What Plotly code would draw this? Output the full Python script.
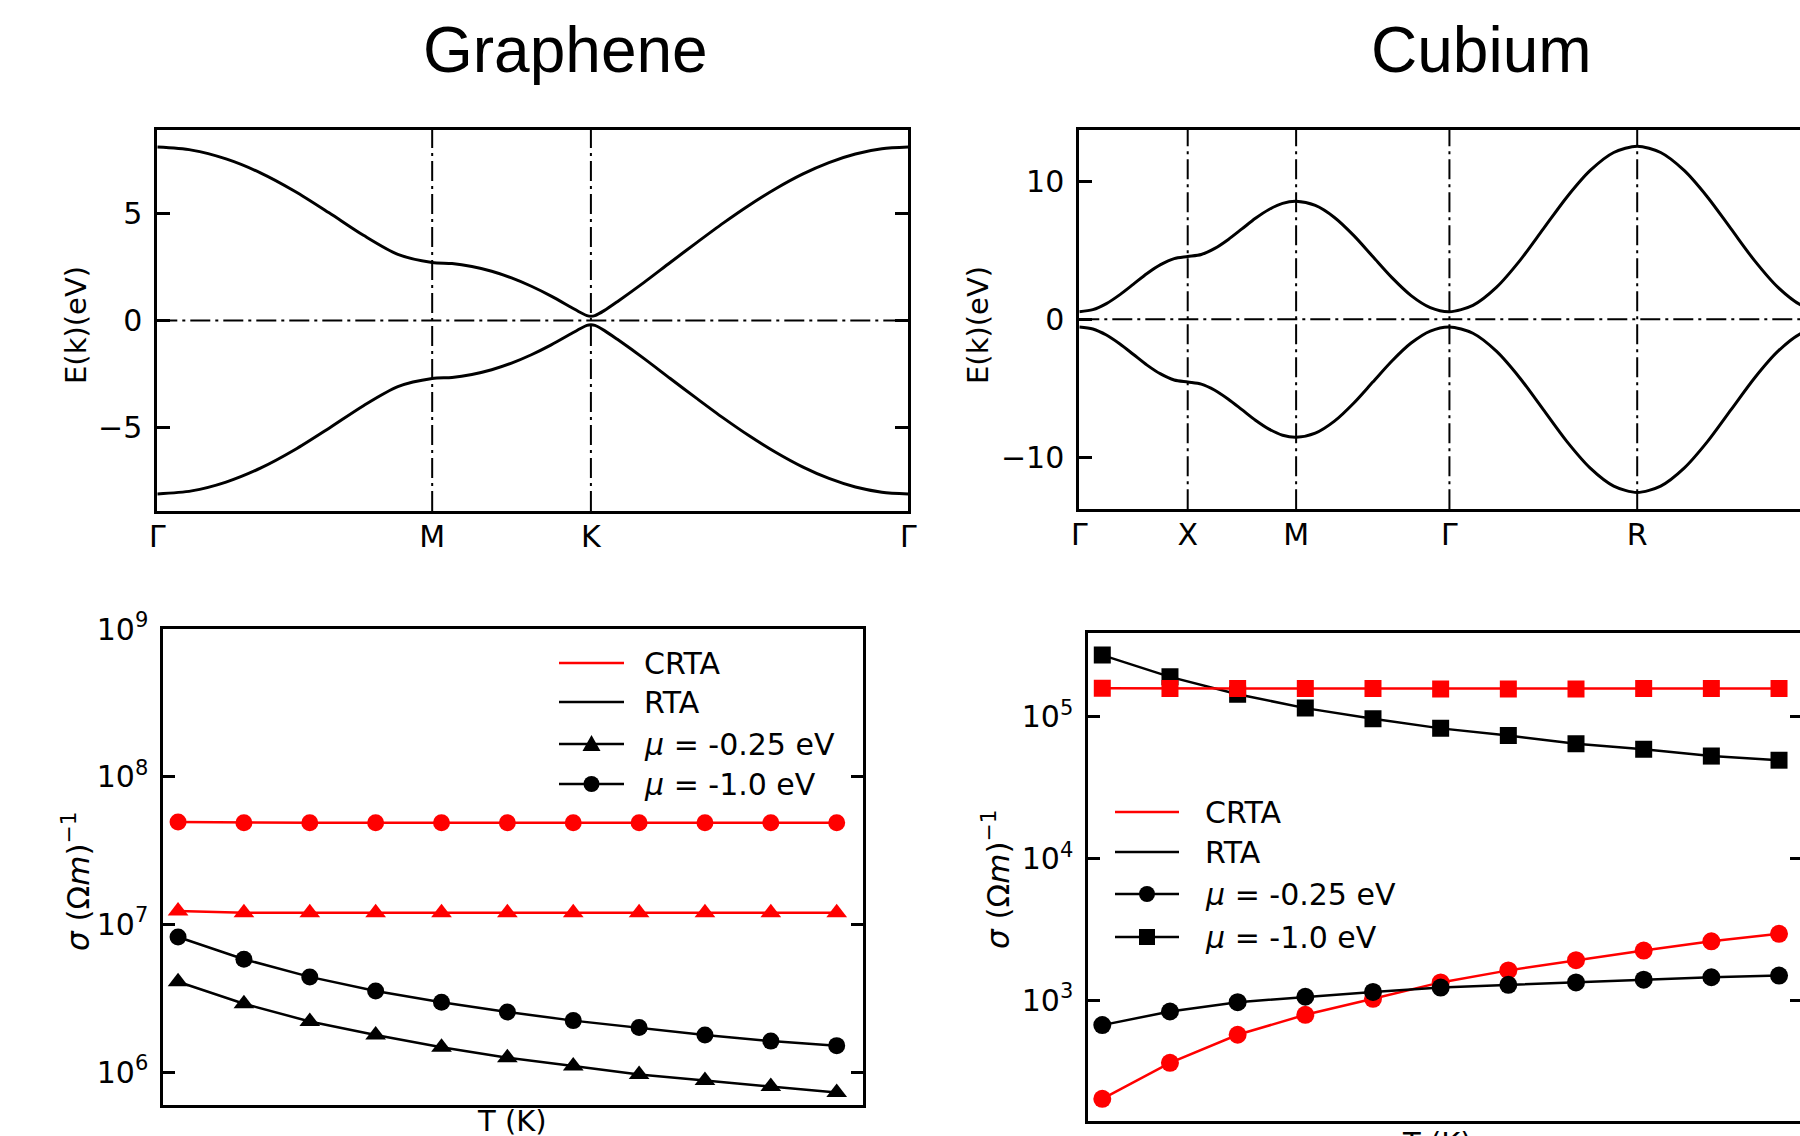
import plotly.graph_objects as go

# ---------------- Graphene band structure ----------------
gr_k = [0.0, 0.1443, 0.2887, 0.4330, 0.5774, 0.7217, 0.8660, 1.0104, 1.1547,
        1.2380, 1.3214, 1.4047, 1.4880, 1.5714, 1.6547, 1.7380, 1.7797, 1.8047, 1.8214,
        1.8381, 1.8770, 1.9325, 2.0436, 2.1547, 2.2658, 2.3769, 2.4880, 2.5992,
        2.7103, 2.8214, 2.9325, 3.0436, 3.1547]
gr_cond = [8.10, 7.96, 7.55, 6.90, 6.04, 5.03, 3.98, 3.09, 2.71,
           2.66, 2.52, 2.30, 1.99, 1.60, 1.14, 0.62, 0.36, 0.23, 0.20,
           0.23, 0.46, 0.88, 1.77, 2.71, 3.64, 4.55, 5.40, 6.17,
           6.84, 7.38, 7.78, 8.02, 8.10]
gr_val = [-8.10, -7.96, -7.55, -6.90, -6.04, -5.03, -3.98, -3.09, -2.71,
          -2.66, -2.52, -2.30, -1.99, -1.60, -1.14, -0.62, -0.36, -0.23, -0.20,
          -0.23, -0.46, -0.88, -1.77, -2.71, -3.64, -4.55, -5.40, -6.17,
          -6.84, -7.38, -7.78, -8.02, -8.10]
gr_sym_pos = [0.0, 1.1547, 1.8214, 3.1547]
gr_sym_lab = ["Γ", "M", "K", "Γ"]

# ---------------- Cubium band structure ----------------
cu_k = [0.0, 0.125, 0.25, 0.375, 0.5, 0.625, 0.75, 0.875, 1.0,
        1.125, 1.25, 1.375, 1.5, 1.625, 1.75, 1.875, 2.0,
        2.1768, 2.3536, 2.5303, 2.7071, 2.8839, 3.0607, 3.2374, 3.4142,
        3.6307, 3.8472, 4.0637, 4.2802, 4.4967, 4.7132, 4.9297, 5.1463,
        5.3628, 5.5793, 5.7958, 6.0123, 6.2288, 6.4453, 6.6618, 6.8783]
cu_cond = [0.55, 0.70, 1.14, 1.79, 2.55, 3.32, 3.96, 4.40, 4.55,
           4.70, 5.14, 5.79, 6.55, 7.32, 7.96, 8.40, 8.55,
           8.25, 7.38, 6.08, 4.55, 3.02, 1.72, 0.85, 0.55,
           1.01, 2.31, 4.25, 6.55, 8.85, 10.79, 12.09, 12.55,
           12.09, 10.79, 8.85, 6.55, 4.25, 2.31, 1.01, 0.55]
cu_val = [-0.55, -0.70, -1.14, -1.79, -2.55, -3.32, -3.96, -4.40, -4.55,
          -4.70, -5.14, -5.79, -6.55, -7.32, -7.96, -8.40, -8.55,
          -8.25, -7.38, -6.08, -4.55, -3.02, -1.72, -0.85, -0.55,
          -1.01, -2.31, -4.25, -6.55, -8.85, -10.79, -12.09, -12.55,
          -12.09, -10.79, -8.85, -6.55, -4.25, -2.31, -1.01, -0.55]
cu_sym_pos = [0.0, 1.0, 2.0, 3.4142, 5.1463, 6.8783]
cu_sym_lab = ["Γ", "X", "M", "Γ", "R", "Γ"]

# ---------------- Conductivity vs temperature ----------------
T_K = [100, 150, 200, 250, 300, 350, 400, 450, 500, 550, 600]

gr_crta_m025 = [1.23e7, 1.20e7, 1.20e7, 1.20e7, 1.20e7, 1.20e7, 1.20e7, 1.20e7, 1.20e7, 1.20e7, 1.20e7]
gr_crta_m10 = [4.93e7, 4.88e7, 4.88e7, 4.88e7, 4.88e7, 4.88e7, 4.88e7, 4.88e7, 4.88e7, 4.88e7, 4.88e7]
gr_rta_m025 = [4.09e6, 2.90e6, 2.20e6, 1.78e6, 1.47e6, 1.25e6, 1.10e6, 9.64e5, 8.76e5, 8.00e5, 7.27e5]
gr_rta_m10 = [8.21e6, 5.81e6, 4.41e6, 3.54e6, 2.97e6, 2.55e6, 2.23e6, 2.00e6, 1.78e6, 1.62e6, 1.51e6]

cu_crta_m025 = [203, 364, 574, 793, 1028, 1342, 1631, 1925, 2249, 2613, 2951]
cu_crta_m10 = [1.59e5, 1.58e5, 1.58e5, 1.58e5, 1.58e5, 1.57e5, 1.57e5, 1.57e5, 1.58e5, 1.58e5, 1.58e5]
cu_rta_m025 = [671, 837, 973, 1063, 1149, 1235, 1291, 1342, 1403, 1459, 1500]
cu_rta_m10 = [2.72e5, 1.91e5, 1.44e5, 1.15e5, 9.68e4, 8.28e4, 7.37e4, 6.45e4, 5.90e4, 5.28e4, 4.94e4]

gr_log_ticks = [1e6, 1e7, 1e8, 1e9]
gr_log_text = ["10<sup>6</sup>", "10<sup>7</sup>", "10<sup>8</sup>", "10<sup>9</sup>"]
cu_log_ticks = [1e3, 1e4, 1e5]
cu_log_text = ["10<sup>3</sup>", "10<sup>4</sup>", "10<sup>5</sup>"]

legend_names = ["CRTA", "RTA", "<i>μ</i> = -0.25 eV", "<i>μ</i> = -1.0 eV"]
gr_legend_colors = ["#ff0000", "#000000", "#000000", "#000000"]
gr_legend_symbols = [None, None, "triangle", "circle"]
cu_legend_colors = ["#ff0000", "#000000", "#000000", "#000000"]
cu_legend_symbols = [None, None, "circle", "square"]

RED = "#ff0000"
BLK = "#000000"
FONT = "DejaVu Sans"
W, H = 1800, 1136

fig = go.Figure()

# band curves
for e in (gr_cond, gr_val):
    fig.add_trace(go.Scatter(x=gr_k, y=e, mode="lines", xaxis="x", yaxis="y",
                             line=dict(color=BLK, width=3, shape="spline", smoothing=0.8),
                             showlegend=False, hoverinfo="skip"))
for e in (cu_cond, cu_val):
    fig.add_trace(go.Scatter(x=cu_k, y=e, mode="lines", xaxis="x2", yaxis="y2",
                             line=dict(color=BLK, width=3, shape="spline", smoothing=0.8),
                             showlegend=False, hoverinfo="skip"))


def tr(x, y, color, symbol, size, xa, ya):
    return go.Scatter(x=x, y=y, mode="lines+markers", xaxis=xa, yaxis=ya,
                      line=dict(color=color, width=2.5),
                      marker=dict(color=color, symbol=symbol, size=size),
                      showlegend=False, hoverinfo="skip")


fig.add_trace(tr(T_K, gr_crta_m10, RED, "circle", 17, "x3", "y3"))
fig.add_trace(tr(T_K, gr_crta_m025, RED, "triangle-up", 18, "x3", "y3"))
fig.add_trace(tr(T_K, gr_rta_m10, BLK, "circle", 17, "x3", "y3"))
fig.add_trace(tr(T_K, gr_rta_m025, BLK, "triangle-up", 18, "x3", "y3"))

fig.add_trace(tr(T_K, cu_crta_m10, RED, "square", 17, "x4", "y5"))
fig.add_trace(tr(T_K, cu_rta_m10, BLK, "square", 17, "x4", "y4"))
fig.add_trace(tr(T_K, cu_crta_m025, RED, "circle", 18, "x4", "y4"))
fig.add_trace(tr(T_K, cu_rta_m025, BLK, "circle", 18, "x4", "y4"))


def px_x(p):
    return p / W


def px_y(p):
    return 1 - p / H


tickfont = dict(family=FONT, size=30, color=BLK)
common_line = dict(showline=True, linecolor=BLK, linewidth=3, showgrid=False,
                   zeroline=False, automargin=False)

layout = dict(
    width=W, height=H, autosize=False, showlegend=False,
    margin=dict(l=0, r=0, t=0, b=0, pad=0, autoexpand=False),
    paper_bgcolor="white", plot_bgcolor="white",
    font=dict(family=FONT, color=BLK),
    xaxis=dict(domain=[px_x(157.3), px_x(908.3)], range=[0, 3.1547], anchor="y",
               tickmode="array", tickvals=gr_sym_pos, ticktext=gr_sym_lab, ticks="",
               ticklabelstandoff=-3, mirror=True, tickfont=tickfont, **common_line),
    yaxis=dict(domain=[px_y(511), px_y(130)], range=[-8.9, 8.9], anchor="x",
               tickmode="array", tickvals=[-5, 0, 5], ticktext=["−5", "0", "5"],
               ticks="inside", ticklen=13, tickwidth=2.5, tickcolor=BLK, ticklabelstandoff=6,
               mirror="ticks", tickfont=tickfont, **common_line),
    xaxis2=dict(domain=[px_x(1079.3), 1.0], range=[0, 6.648], anchor="y2",
                tickmode="array", tickvals=cu_sym_pos, ticktext=cu_sym_lab, ticks="",
                ticklabelstandoff=-3, mirror=True, tickfont=tickfont, **common_line),
    yaxis2=dict(domain=[px_y(509.3), px_y(130)], range=[-13.77, 13.72], anchor="x2",
                tickmode="array", tickvals=[-10, 0, 10], ticktext=["−10", "0", "10"],
                ticks="inside", ticklen=13, tickwidth=2.5, tickcolor=BLK, ticklabelstandoff=6,
                mirror=False, tickfont=tickfont, **common_line),
    xaxis3=dict(domain=[px_x(163.3), px_x(863.3)], range=[88.8, 620.2], anchor="y3",
                showticklabels=False, ticks="", mirror=True, **common_line),
    yaxis3=dict(domain=[px_y(1105), px_y(629)], type="log", range=[5.777, 9.0], anchor="x3",
                tickmode="array", tickvals=gr_log_ticks, ticktext=gr_log_text,
                ticks="inside", ticklen=12, tickwidth=2.5, tickcolor=BLK, ticklabelstandoff=6,
                mirror="ticks", tickfont=tickfont, **common_line),
    xaxis4=dict(domain=[px_x(1088.3), 1.0], range=[89.66, 615.5], anchor="y4",
                showticklabels=False, ticks="", mirror=True, **common_line),
    yaxis4=dict(domain=[px_y(1121), px_y(633.3)], type="log", range=[2.151, 5.588], anchor="x4",
                tickmode="array", tickvals=cu_log_ticks, ticktext=cu_log_text,
                ticks="inside", ticklen=12, tickwidth=2.5, tickcolor=BLK, ticklabelstandoff=6,
                mirror=False, tickfont=tickfont, **common_line),
    yaxis5=dict(domain=[px_y(1121), px_y(633.3)], type="log", range=[2.151, 5.588],
                overlaying="y4", side="right", anchor="x4", matches="y4",
                tickmode="array", tickvals=cu_log_ticks, showticklabels=False,
                ticks="inside", ticklen=10, tickwidth=2.5, tickcolor=BLK,
                showline=False, showgrid=False, zeroline=False, automargin=False),
)
fig.update_layout(**layout)

# dash-dot reference lines at the high-symmetry points and at E = 0
dd = "20px,5px,3px,5px"
shapes = []
for xv in gr_sym_pos[1:-1]:
    shapes.append(dict(type="line", xref="x", yref="y domain", x0=xv, x1=xv, y0=0, y1=1,
                       line=dict(color=BLK, width=2, dash=dd), layer="below"))
shapes.append(dict(type="line", xref="x domain", yref="y", x0=0, x1=1, y0=0, y1=0,
                   line=dict(color=BLK, width=2, dash=dd), layer="below"))
for xv in cu_sym_pos[1:]:
    shapes.append(dict(type="line", xref="x2", yref="y2 domain", x0=xv, x1=xv, y0=0, y1=1,
                       line=dict(color=BLK, width=2, dash=dd), layer="below"))
shapes.append(dict(type="line", xref="x2 domain", yref="y2", x0=0, x1=1, y0=0, y1=0,
                   line=dict(color=BLK, width=2, dash=dd), layer="below"))

lab = dict(family=FONT, size=29, color=BLK)
siglab = dict(family=FONT, size=31, color=BLK)
ann = [
    dict(text="Graphene", x=px_x(565), y=px_y(50), font=dict(family="Liberation Sans", size=64, color=BLK)),
    dict(text="Cubium", x=px_x(1481), y=px_y(50), font=dict(family="Liberation Sans", size=64, color=BLK)),
    dict(text="E(k)(eV)", x=px_x(76), y=px_y(325), textangle=-90, font=lab),
    dict(text="E(k)(eV)", x=px_x(978), y=px_y(325), textangle=-90, font=lab),
    dict(text="<i>σ</i> (Ω<i>m</i>)<sup>−1</sup>", x=px_x(76), y=px_y(881), textangle=-90, font=siglab),
    dict(text="<i>σ</i> (Ω<i>m</i>)<sup>−1</sup>", x=px_x(996), y=px_y(879), textangle=-90, font=siglab),
    dict(text="T (K)", x=px_x(512), y=px_y(1121), font=lab),
    dict(text="T (K)", x=px_x(1437), y=px_y(1124), yanchor="top", font=lab),
]


# hand-built legends (line sample + marker + label), matplotlib style
def add_legend(x_line0, x_line1, x_text, rows, colors, symbols):
    xm = (x_line0 + x_line1) / 2
    for name, c, s, yr in zip(legend_names, colors, symbols, rows):
        shapes.append(dict(type="line", xref="paper", yref="paper",
                           x0=px_x(x_line0), x1=px_x(x_line1), y0=px_y(yr), y1=px_y(yr),
                           line=dict(color=c, width=2.5)))
        r = 8
        if s == "circle":
            shapes.append(dict(type="circle", xref="paper", yref="paper",
                               x0=px_x(xm - r), x1=px_x(xm + r), y0=px_y(yr + r), y1=px_y(yr - r),
                               fillcolor=c, line=dict(color=c, width=0)))
        elif s == "square":
            shapes.append(dict(type="rect", xref="paper", yref="paper",
                               x0=px_x(xm - r), x1=px_x(xm + r), y0=px_y(yr + r), y1=px_y(yr - r),
                               fillcolor=c, line=dict(color=c, width=0)))
        elif s == "triangle":
            p = "M {:.5f} {:.5f} L {:.5f} {:.5f} L {:.5f} {:.5f} Z".format(
                px_x(xm - 9), px_y(yr + 7), px_x(xm + 9), px_y(yr + 7), px_x(xm), px_y(yr - 9))
            shapes.append(dict(type="path", xref="paper", yref="paper", path=p,
                               fillcolor=c, line=dict(color=c, width=0)))
        ann.append(dict(text=name, x=px_x(x_text), y=px_y(yr), xanchor="left",
                        font=dict(family=FONT, size=30, color=BLK)))


add_legend(559, 624, 642, [663, 702, 744, 784], gr_legend_colors, gr_legend_symbols)
add_legend(1115, 1179, 1203, [812, 852, 894, 937], cu_legend_colors, cu_legend_symbols)

for a in ann:
    a.setdefault("xanchor", "center")
    a.setdefault("yanchor", "middle")
    a.update(xref="paper", yref="paper", showarrow=False)
fig.update_layout(annotations=ann, shapes=shapes)

fig.write_html("out.html")
